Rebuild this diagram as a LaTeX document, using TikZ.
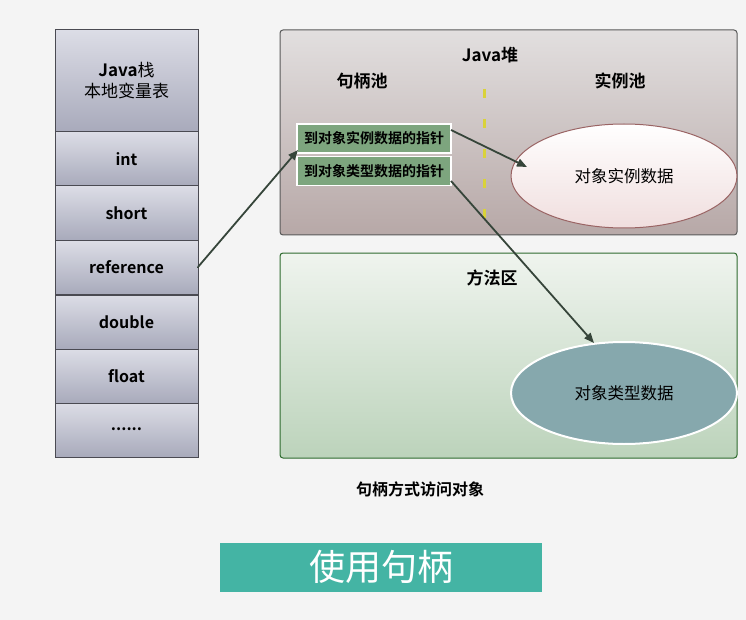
\documentclass[tikz,border=0pt]{standalone}
\usepackage{fontspec}
\setmainfont{Noto Sans CJK SC}[BoldFont={Noto Sans CJK SC Bold}]
\usetikzlibrary{shapes.geometric,arrows.meta}
\definecolor{bg}{HTML}{F4F4F4}
\definecolor{celltop}{HTML}{DCDDE6}
\definecolor{cellbot}{HTML}{A8AABB}
\definecolor{cellline}{HTML}{4A4A52}
\definecolor{heaptop}{HTML}{E2DFDF}
\definecolor{heapbot}{HTML}{B7A8A7}
\definecolor{methtop}{HTML}{EFF4EE}
\definecolor{methbot}{HTML}{BCD3BB}
\definecolor{handlegreen}{HTML}{7DA57E}
\definecolor{arrowc}{HTML}{36453A}
\definecolor{elltwo}{HTML}{86A8AD}
\definecolor{ellonetop}{HTML}{FFFFFF}
\definecolor{ellonebot}{HTML}{F0DEDE}
\definecolor{ellline}{HTML}{9A6464}
\definecolor{banner}{HTML}{44B4A4}
\definecolor{dashy}{HTML}{D9D23A}
\tikzset{
  cell/.style={draw=cellline, line width=1pt, top color=celltop, bottom color=cellbot,
    minimum width=143pt, inner sep=0pt, outer sep=0pt, font=\bfseries\fontsize{16}{19}\selectfont},
  handlebox/.style={draw=white, line width=1.6pt, fill=handlegreen, minimum width=154pt,
    minimum height=29pt, inner sep=0pt, font=\bfseries\fontsize{14}{16}\selectfont},
  lbl/.style={font=\bfseries\fontsize{17}{19}\selectfont, inner sep=0pt},
  conn/.style={draw=arrowc, line width=1.8pt, -{Triangle[length=10pt,width=8pt]}},
}
\begin{document}
\begin{tikzpicture}[x=1pt,y=-1pt]
\fill[bg] (0,0) rectangle (746,620);
\useasboundingbox (0,0) rectangle (746,620);
% stack
\node[cell, minimum height=102pt, align=center, font=\fontsize{17}{21}\selectfont] (hdr) at (126.5,81) {{\bfseries Java}栈\\本地变量表};
\node[cell, minimum height=54pt] (int) at (126.5,159) {int};
\node[cell, minimum height=54pt] (short) at (126.5,213) {short};
\node[cell, minimum height=54pt] (ref) at (126.5,267.5) {reference};
\node[cell, minimum height=54pt] (dbl) at (126.5,322) {double};
\node[cell, minimum height=54pt] (flt) at (126.5,376) {float};
\node[cell, minimum height=54pt] (dots) at (126.5,430) {\raisebox{2pt}{......}};
% heap
\node[draw=gray!70!black, line width=1pt, rounded corners=3pt, top color=heaptop, bottom color=heapbot,
  minimum width=457pt, minimum height=205pt, inner sep=0pt] (heap) at (508.5,132.5) {};
\node[lbl] (heapl) at (490,55) {Java堆};
\node[lbl] (hpool) at (362,81) {句柄池};
\node[lbl] (ipool) at (620,81) {实例池};
\draw[dashy, line width=3pt, dash pattern=on 9pt off 21pt] (484,89) -- (484,226);
% method area
\node[draw=gray!60!green!60!black, line width=1pt, rounded corners=3pt, top color=methtop, bottom color=methbot,
  minimum width=457pt, minimum height=205pt, inner sep=0pt] (meth) at (508.5,355.5) {};
\node[lbl] (methl) at (492,278) {方法区};
% handles
\node[handlebox] (h1) at (374,138.5) {到对象实例数据的指针};
\node[handlebox] (h2) at (374,171) {到对象类型数据的指针};
% ellipses
\node[ellipse, draw=ellline, line width=1pt, top color=ellonetop, bottom color=ellonebot,
  minimum width=226pt, minimum height=104pt, inner sep=0pt, font=\fontsize{16.5}{18}\selectfont] (e1) at (624,176) {对象实例数据};
\node[ellipse, draw=white, line width=2pt, fill=elltwo,
  minimum width=226pt, minimum height=102pt, inner sep=0pt, font=\fontsize{16.5}{18}\selectfont] (e2) at (624,393) {对象类型数据};
% connectors
\coordinate (refout) at (198,267);
\coordinate (h1in) at (298,150);
\coordinate (h1out) at (451,130);
\coordinate (e1in) at (527,167);
\coordinate (h2out) at (451,181);
\coordinate (e2in) at (594,343);
\draw[draw=arrowc, line width=1.8pt] (ref.east) -- (refout);
\draw[conn] (refout) -- (h1in);
\draw[conn] (h1out) -- (e1in);
\draw[conn] (h2out) -- (e2in);
% caption
\node[inner sep=0pt, font=\bfseries\fontsize{16}{18}\selectfont] (cap) at (420,489) {句柄方式访问对象};
% banner
\node[fill=banner, minimum width=322pt, minimum height=49pt, inner sep=0pt] (ban) at (381,567.5) {};
\node[text=white, font=\fontsize{36}{38}\selectfont, inner sep=0pt] (bant) at (381,567) {使用句柄};
\end{tikzpicture}
\end{document}
